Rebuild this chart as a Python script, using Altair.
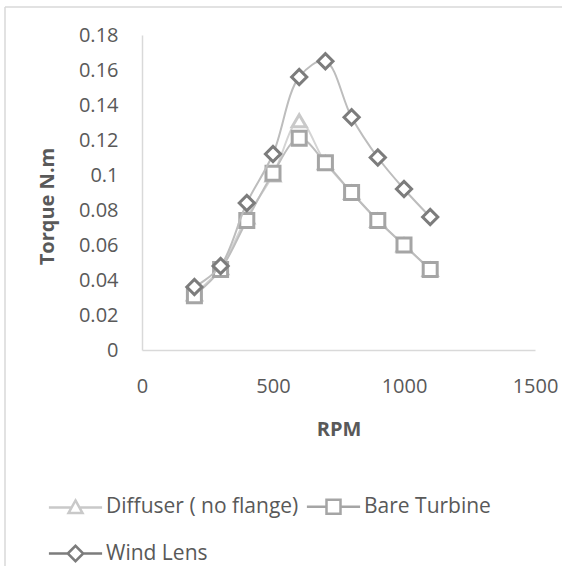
import altair as alt
import pandas as pd

rpm = [200, 300, 400, 500, 600, 700, 800, 900, 1000, 1100]
diffuser = [0.032, 0.047, 0.076, 0.100, 0.131, 0.107, 0.090, 0.074, 0.060, 0.046]
bare = [0.031, 0.046, 0.074, 0.101, 0.121, 0.107, 0.090, 0.074, 0.060, 0.046]
wind = [0.036, 0.048, 0.084, 0.112, 0.156, 0.165, 0.133, 0.110, 0.092, 0.076]

names = ["Diffuser ( no flange)", "Bare Turbine", "Wind Lens"]
series_values = [diffuser, bare, wind]
marker_colors = ["#c9c9c9", "#a5a5a5", "#7c7c7c"]
line_colors = ["#d4d4d4", "#bdbdbd", "#bdbdbd"]
shapes = ["triangle-up", "square", "diamond"]
sizes = [200, 196, 230]

x_ticks = [0, 500, 1000, 1500]
y_ticks = [0, 0.02, 0.04, 0.06, 0.08, 0.1, 0.12, 0.14, 0.16, 0.18]

rows = []
for n, vals in zip(names, series_values):
    for r, v in zip(rpm, vals):
        rows.append({"series": n, "rpm": r, "torque": v})
df = pd.DataFrame(rows)

FONT = "Open Sans"
TXT = "#595959"
AX = "#d9d9d9"

x_enc = alt.X("rpm:Q", scale=alt.Scale(domain=[0, 1500], nice=False),
              axis=alt.Axis(values=x_ticks, format="d", title="RPM", grid=False, ticks=False,
                            labelFlush=False, domainColor=AX, domainWidth=1.5, labelPadding=26,
                            labelFontSize=20, labelColor=TXT, labelFont=FONT,
                            titleFont=FONT, titleFontSize=20, titleColor=TXT,
                            titleFontWeight="bold", titleY=79, titleBaseline="middle"))
y_enc = alt.Y("torque:Q", scale=alt.Scale(domain=[0, 0.18], nice=False),
              axis=alt.Axis(values=y_ticks, format="~g", title="Torque N.m", grid=False,
                            ticks=False, labelFlush=False, domainColor=AX, domainWidth=1.5,
                            labelPadding=24, labelFontSize=20, labelColor=TXT, labelFont=FONT,
                            titleFont=FONT, titleFontSize=20, titleColor=TXT,
                            titleFontWeight="bold", titleX=-95, titleY=171,
                            titleBaseline="middle"))

base = alt.Chart(df)
layers = []
for n, mc, lc, shp, sz in zip(names, marker_colors, line_colors, shapes, sizes):
    sub = base.transform_filter(alt.datum.series == n)
    layers.append(sub.mark_line(interpolate="catmull-rom", color=lc, strokeWidth=2)
                  .encode(x=x_enc, y=y_enc))
    layers.append(sub.mark_point(shape=shp, size=sz, filled=True, fill="white",
                                 stroke=mc, strokeWidth=3, opacity=1)
                  .encode(x=x_enc, y=y_enc))

# legend symbols: line + marker
legend_paths = [
    "M-3.8,0L-0.56,0M0.56,0L3.8,0M0,-1L1,0.8L-1,0.8Z",
    "M-3.8,0L-1,0M1,0L3.8,0M-1,-1L1,-1L1,1L-1,1Z",
    "M-3.8,0L-1.1,0M1.1,0L3.8,0M-1.1,0L0,-1.1L1.1,0L0,1.1Z",
]
leg = alt.Legend(title=None, orient="none", legendX=-77, legendY=461, columns=2,
                 direction="horizontal", columnPadding=2, rowPadding=21, padding=0,
                 labelFont=FONT, labelFontSize=21, labelColor=TXT, labelOffset=20,
                 labelLimit=400, symbolSize=196, symbolStrokeWidth=2.5,
                 symbolFillColor="white")
legend_layer = base.transform_filter("false").mark_point(filled=False, opacity=1).encode(
    x=x_enc, y=y_enc,
    color=alt.Color("series:N", scale=alt.Scale(domain=names, range=marker_colors), legend=leg),
    shape=alt.Shape("series:N", scale=alt.Scale(domain=names, range=legend_paths), legend=leg),
)
layers.append(legend_layer)

# outer chart frame (left and top edges)
frame_df = pd.DataFrame({"k": [0]})
frame_left = alt.Chart(frame_df).mark_rule(color=AX, strokeWidth=1.5).encode(
    x=alt.value(-137), y=alt.value(-28), y2=alt.value(531))
frame_top = alt.Chart(frame_df).mark_rule(color=AX, strokeWidth=1.5).encode(
    x=alt.value(-137), x2=alt.value(420), y=alt.value(-28))

chart = alt.layer(frame_left, frame_top, *layers).properties(
    width=393, height=315,
    autosize=alt.AutoSizeParams(type="none"),
    padding={"left": 142, "top": 35, "right": 47, "bottom": 216},
).configure(background="white").configure_view(stroke=None)

chart.save("out.html", embed_options={"renderer": "svg", "actions": False})
